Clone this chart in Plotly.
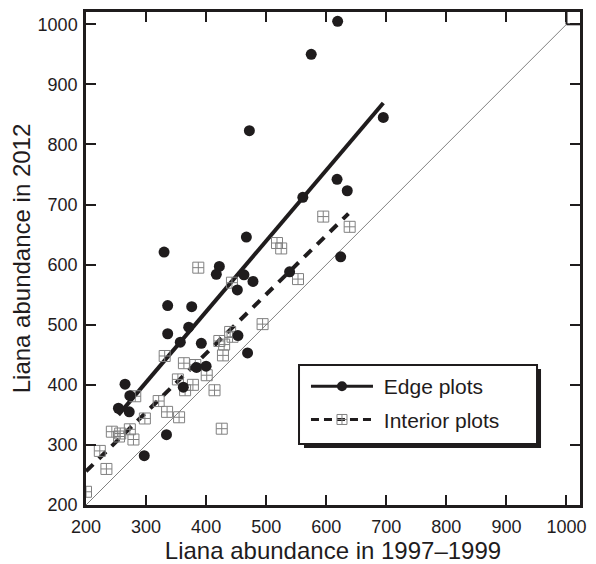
import plotly.graph_objects as go

# ---- data ----
edge_x = [619, 575, 472, 695, 618, 635, 561, 467, 330, 624, 422, 417, 463, 478, 452,
          539, 336, 376, 371, 336, 357, 392, 453, 469, 384, 400, 362, 265, 273, 254,
          272, 334, 297]
edge_y = [1005, 950, 823, 845, 742, 723, 712, 646, 621, 613, 597, 584, 583, 572, 558,
          588, 532, 530, 496, 485, 471, 469, 482, 453, 429, 431, 396, 401, 382, 361,
          355, 317, 282]

interior_x = [595, 518, 525, 639, 387, 443, 553, 494, 440, 444, 422, 430, 428, 331, 363,
              382, 401, 353, 378, 365, 414, 282, 321, 335, 355, 298, 243, 257, 273, 255,
              279, 223, 234, 200, 426]
interior_y = [680, 636, 627, 663, 595, 570, 576, 501, 488, 480, 473, 467, 449, 448, 436,
              433, 416, 409, 400, 391, 391, 381, 373, 355, 346, 344, 322, 319, 326, 314,
              309, 290, 260, 222, 327]

edge_fit_x = [254, 695]
edge_fit_y = [350, 869]
interior_fit_x = [200, 637]
interior_fit_y = [256, 685]

identity_x = [200, 1000]
identity_y = [200, 1000]

tick_vals = [200, 300, 400, 500, 600, 700, 800, 900, 1000]
tick_text = [str(v) for v in tick_vals]

series_names = ["Edge plots", "Interior plots"]

INK = "#1f1c1d"
GRAY = "#808080"
FONT = "Liberation Sans, Arial, Helvetica, sans-serif"
NBSP = "\u00a0"

fig = go.Figure()

# 1:1 line
fig.add_trace(go.Scatter(x=identity_x, y=identity_y, mode="lines",
                         line=dict(color=GRAY, width=1), showlegend=False, hoverinfo="skip"))

# fit lines
fig.add_trace(go.Scatter(x=edge_fit_x, y=edge_fit_y, mode="lines",
                         line=dict(color=INK, width=4), showlegend=False))
fig.add_trace(go.Scatter(x=interior_fit_x, y=interior_fit_y, mode="lines",
                         line=dict(color=INK, width=4, dash="10px,8px"), showlegend=False))

# points
fig.add_trace(go.Scatter(x=interior_x, y=interior_y, mode="markers",
                         marker=dict(symbol="square-cross-open", size=11,
                                     color=GRAY, line=dict(width=1, color=GRAY)),
                         showlegend=False))
fig.add_trace(go.Scatter(x=edge_x, y=edge_y, mode="markers",
                         marker=dict(symbol="circle", size=11, color=INK,
                                     line=dict(width=0)),
                         showlegend=False))

# legend entries
fig.add_trace(go.Scatter(x=[None], y=[None], mode="lines+markers",
                         name=NBSP + series_names[0], legendgroup="g1",
                         line=dict(color=INK, width=3),
                         marker=dict(symbol="circle", size=10, color=INK)))
fig.add_trace(go.Scatter(x=[None], y=[None], mode="lines+markers",
                         name=NBSP + series_names[1], legendgroup="g2",
                         line=dict(color=INK, width=3, dash="8px,5px"),
                         marker=dict(symbol="square-cross-open", size=10, color=GRAY,
                                     line=dict(width=1, color=GRAY))))

axis_common = dict(
    tickvals=tick_vals, ticktext=tick_text,
    ticks="inside", ticklen=10, tickwidth=2, tickcolor=INK,
    showline=True, linewidth=2.5, linecolor=INK, mirror="ticks",
    showgrid=False, zeroline=False,
    tickfont=dict(family=FONT, size=18, color=INK),
    automargin=False,
)

fig.update_layout(
    width=596, height=564,
    margin=dict(l=78, r=24, t=4, b=67),
    paper_bgcolor="white", plot_bgcolor="white",
    font=dict(family=FONT, color=INK),
    xaxis=dict(range=[200, 1022.5], ticklabelstandoff=4,
               title=dict(text="Liana abundance in 1997\u20131999",
                          font=dict(family=FONT, size=24, color=INK), standoff=5),
               **axis_common),
    yaxis=dict(range=[200, 1020.5], ticklabelstandoff=2,
               title=dict(text="Liana abundance in 2012",
                          font=dict(family=FONT, size=24, color=INK), standoff=1),
               **axis_common),
    legend=dict(x=0.4453, y=0.2819, xanchor="left", yanchor="top",
                bgcolor="rgba(0,0,0,0)", borderwidth=0,
                font=dict(family=FONT, size=21, color=INK),
                itemwidth=62, tracegroupgap=3),
    shapes=[
        # drop shadow of the legend box
        dict(type="rect", xref="paper", yref="paper",
             x0=0.4413, x1=0.9211, y0=0.1156, y1=0.2759,
             fillcolor=INK, line=dict(width=0), layer="above"),
        # legend box
        dict(type="rect", xref="paper", yref="paper",
             x0=0.4312, x1=0.9130, y0=0.1237, y1=0.2840,
             fillcolor="white", line=dict(color=INK, width=2), layer="above"),
        # small corner box at (1000, 1000)
        dict(type="line", xref="x", yref="y", x0=1000, x1=1000, y0=1000, y1=1030,
             line=dict(color=INK, width=2)),
        dict(type="line", xref="x", yref="y", x0=1000, x1=1030, y0=1000, y1=1000,
             line=dict(color=INK, width=2)),
    ],
)

fig.write_html("out.html")
